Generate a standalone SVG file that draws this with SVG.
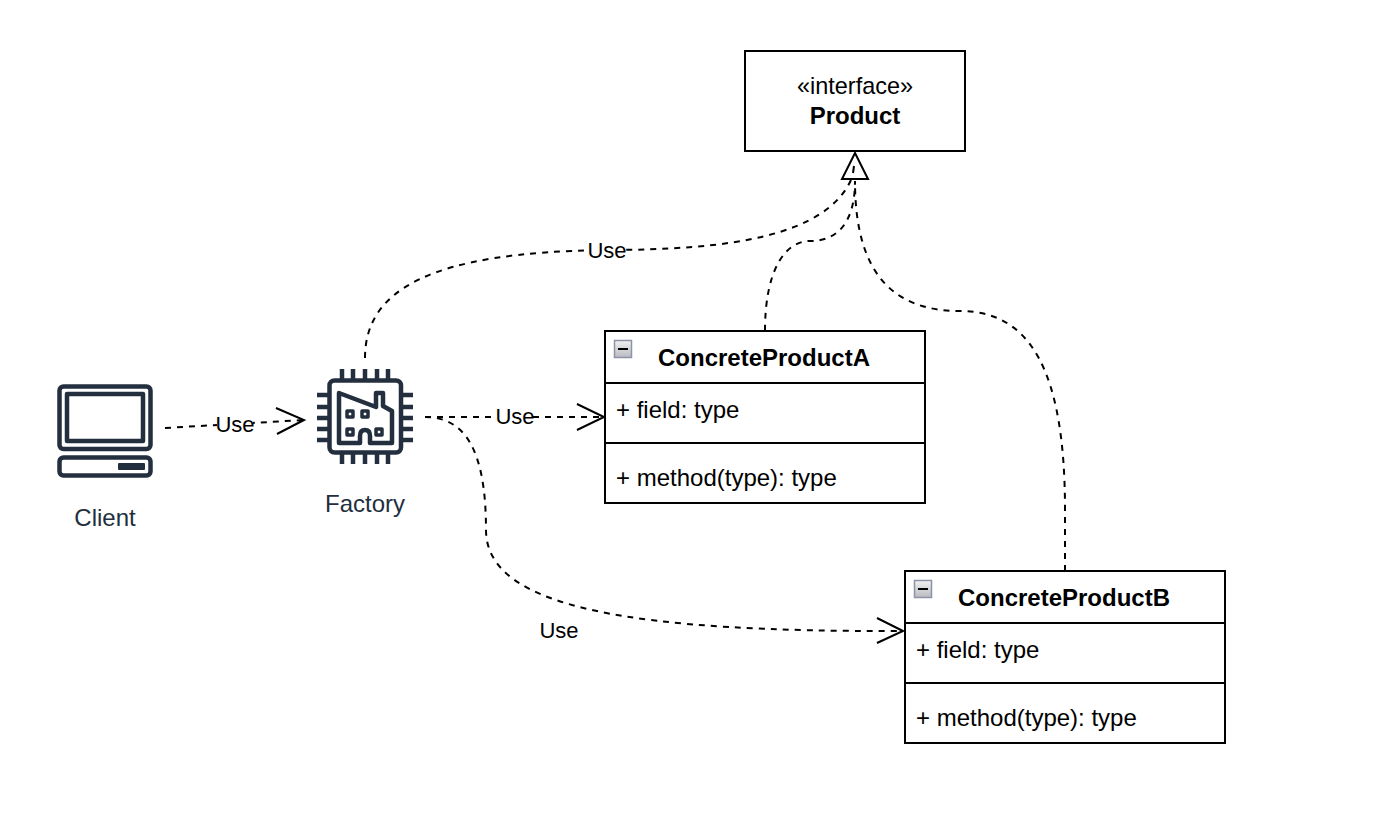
<svg xmlns="http://www.w3.org/2000/svg" width="1378" height="836" viewBox="0 0 1378 836">
  <style>
    text { font-family: "Liberation Sans", Arial, sans-serif; font-size: 24px; fill: #000; }
    .b { font-weight: bold; }
    .m { text-anchor: middle; }
    .box { fill: #fff; stroke: #000; stroke-width: 2; }
    .dash { fill: none; stroke: #000; stroke-width: 2; stroke-dasharray: 6 6; }
    .open { fill: none; stroke: #000; stroke-width: 2; }
    .ico { fill: none; stroke: #232f3e; stroke-width: 4.5; stroke-linejoin: round; }
    .win { fill: none; stroke: #232f3e; stroke-width: 3.5; stroke-linejoin: round; }
    .pin { fill: none; stroke: #232f3e; stroke-width: 4.5; }
    .cap { fill: #232f3e; text-anchor: middle; }
    .lbl { fill: #fff; stroke: none; }
    .use { font-size: 22px; text-anchor: middle; }
  </style>
  <defs>
    <linearGradient id="toggle" x1="0" y1="0" x2="0" y2="1">
      <stop offset="0" stop-color="#f2f2f2"/>
      <stop offset="1" stop-color="#b9b9c0"/>
    </linearGradient>
    <g id="collapse">
      <rect x="0.5" y="0.5" width="17" height="17" fill="url(#toggle)" stroke="#8c93a6" stroke-width="1.5"/>
      <path d="M4 9H14" stroke="#000" stroke-width="2"/>
    </g>
  </defs>
  <rect width="1378" height="836" fill="#fff"/>

  <g id="connectors">
    <path class="dash" d="M165 428 L304 420"/>
    <path class="open" d="M276 408 L304 420 L277 434"/>
    <path class="dash" d="M425 417 L604 417"/>
    <path class="open" d="M577 404 L604 417 L577 430"/>
    <path class="dash" d="M425 417 C465 417 486 450 486 530 C486 610 640 632 903 631"/>
    <path class="open" d="M877 618 L903 631 L877 643"/>
    <path class="dash" d="M365 358 C365 290 430 252 606 250 C730 250 825 236 851 180"/>
    <path class="dash" d="M765 331 C765 270 785 241 810 241 C838 241 855 222 855 181"/>
    <path class="dash" d="M1065 571 L1065 510 C1065 370 1030 311 960 311 C890 311 855 270 855 181"/>
    <path d="M855 153 L868 179 L842 179 Z" fill="none" stroke="#000" stroke-width="2"/>
    <path d="M854 166 L853 173" fill="none" stroke="#000" stroke-width="2"/>
  </g>

  <g id="client">
    <rect class="ico" x="59.5" y="386.5" width="91" height="62.5" rx="4"/>
    <rect class="ico" x="67" y="394" width="76" height="47"/>
    <rect class="ico" x="59.5" y="457.5" width="91" height="18" rx="4"/>
    <rect x="118" y="463" width="27" height="7" rx="1" fill="#232f3e"/>
    <text class="cap" x="105" y="526">Client</text>
  </g>

  <g id="factory">
    <rect class="ico" x="329.5" y="380.5" width="71.5" height="72" rx="5"/>
    <path class="pin" d="M342 369V379M353 369V379M365 369V379M377 369V379M388 369V379M342 454V464M353 454V464M365 454V464M377 454V464M388 454V464M317 395H328M317 407H328M317 418H328M317 429H328M317 440H328M402 395H413M402 407H413M402 418H413M402 429H413M402 440H413"/>
    <path class="ico" d="M339 393 L376 407 V393 H383 V406 L392 411 V443 H370 V436 Q370 430 365 430 Q360 430 360 436 V443 H339 Z"/>
    <rect class="win" x="347" y="411" width="6" height="6"/>
    <rect class="win" x="362" y="411" width="6" height="6"/>
    <rect class="win" x="347" y="429" width="6" height="6"/>
    <rect class="win" x="376" y="429" width="6" height="6"/>
    <text class="cap" x="365" y="512">Factory</text>
  </g>

  <g id="product">
    <rect class="box" x="745" y="51" width="220" height="100"/>
    <text class="m" x="855" y="94" textLength="116" lengthAdjust="spacingAndGlyphs">«interface»</text>
    <text class="m b" x="855" y="124">Product</text>
  </g>

  <g id="concrete-product-a">
    <rect class="box" x="605" y="331" width="320" height="172"/>
    <path class="open" d="M605 383H925M605 443H925"/>
    <use href="#collapse" x="614" y="340"/>
    <text class="m b" x="764" y="366">ConcreteProductA</text>
    <text x="616" y="418">+ field: type</text>
    <text x="616" y="486">+ method(type): type</text>
  </g>

  <g id="concrete-product-b">
    <rect class="box" x="905" y="571" width="320" height="172"/>
    <path class="open" d="M905 623H1225M905 683H1225"/>
    <use href="#collapse" x="914" y="580"/>
    <text class="m b" x="1064" y="606">ConcreteProductB</text>
    <text x="916" y="658">+ field: type</text>
    <text x="916" y="726">+ method(type): type</text>
  </g>

  <g id="labels">
    <rect class="lbl" x="217" y="413" width="36" height="22"/>
    <text class="use" x="235" y="432">Use</text>
    <rect class="lbl" x="497" y="406" width="36" height="22"/>
    <text class="use" x="515" y="424">Use</text>
    <rect class="lbl" x="589" y="239" width="36" height="22"/>
    <text class="use" x="607" y="258">Use</text>
    <text class="use" x="559" y="638">Use</text>
  </g>
</svg>
